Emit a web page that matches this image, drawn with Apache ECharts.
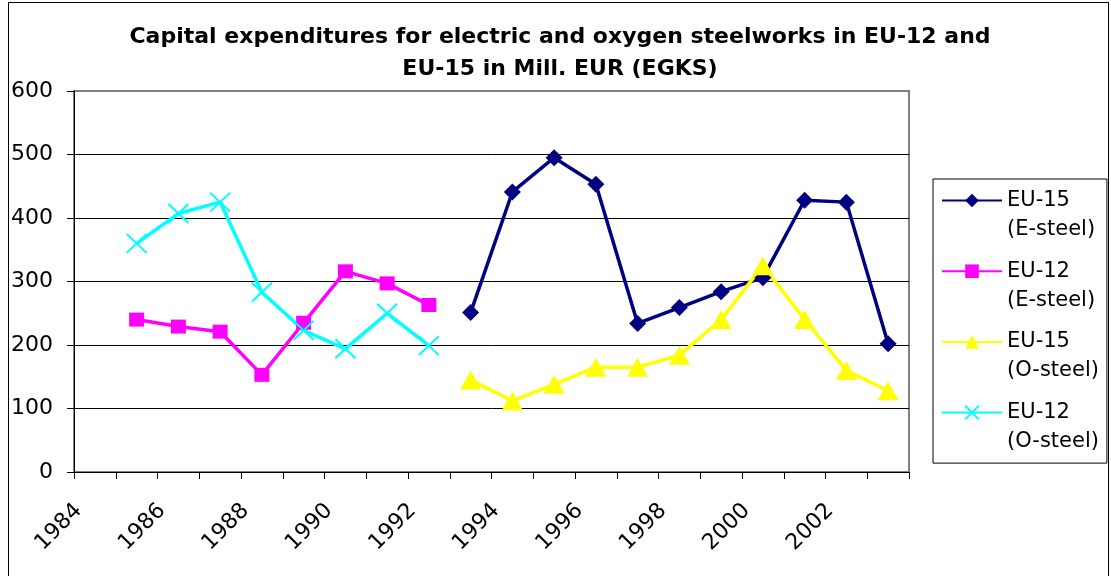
<!DOCTYPE html>
<html>
<head>
<meta charset="utf-8">
<script src="https://cdn.jsdelivr.net/npm/echarts@6/dist/echarts.min.js"></script>
<style>
  html, body { margin: 0; padding: 0; background: #fff; }
  #wrap { position: relative; width: 1111px; height: 576px; }
  #chart { width: 1111px; height: 576px; }
  #frame { position: absolute; left: 8px; top: 2px; width: 1099px; height: 600px;
           border: 1.5px solid #000; pointer-events: none; }
</style>
</head>
<body>
<div id="wrap">
  <div id="chart"></div>
  <div id="frame"></div>
</div>
<script>
// categories on the x axis, one per year
const years = ['1984', '1985', '1986', '1987', '1988', '1989', '1990', '1991', '1992', '1993',
               '1994', '1995', '1996', '1997', '1998', '1999', '2000', '2001', '2002', '2003'];

// values, Mill. EUR
const eu15Electric = [null, null, null, null, null, null, null, null, null,
                      251, 441, 495, 453, 234, 259, 284, 306, 428, 425, 202];
const eu12Electric = [null, 240, 229, 221, 153, 235, 316, 297, 263,
                      null, null, null, null, null, null, null, null, null, null, null];
const eu15Oxygen = [null, null, null, null, null, null, null, null, null,
                    145, 112, 138, 165, 165, 184, 240, 325, 240, 160, 128];
const eu12Oxygen = [null, 360, 407, 425, 283, 223, 194, 250, 199,
                    null, null, null, null, null, null, null, null, null, null, null];

const seriesNames = ['EU-15\n(E-steel)', 'EU-12\n(E-steel)', 'EU-15\n(O-steel)', 'EU-12\n(O-steel)'];

const font = 'DejaVu Sans';
const crossPath = 'path://M0,0L20,20M20,0L0,20';

const lineSeries = (name, data, color, symbol, size, extraItem) => ({
    name,
    type: 'line',
    data,
    symbol,
    symbolSize: size,
    connectNulls: false,
    lineStyle: { color, width: 3.5 },
    itemStyle: Object.assign({ color, borderWidth: 0 }, extraItem || {}),
    emphasis: { disabled: true }
});

const myChart = echarts.init(document.querySelector('#chart'), null, { renderer: 'canvas' });

myChart.setOption({
    animation: false,
    title: {
        text: 'Capital expenditures for electric and oxygen steelworks in EU-12 and\nEU-15 in Mill. EUR (EGKS)',
        left: 560,
        textAlign: 'center',
        top: 21,
        padding: 0,
        textStyle: {
            fontFamily: font,
            fontWeight: 'bold',
            fontSize: 22,
            lineHeight: 32,
            color: '#000'
        }
    },
    grid: {
        left: 74,
        right: 202,
        top: 91,
        bottom: 104,
        show: true,
        borderColor: '#808080',
        borderWidth: 2,
        containLabel: false,
        outerBoundsMode: 'none'
    },
    legend: {
        orient: 'vertical',
        left: 933,
        top: 179,
        // each label gets an empty first line so the icon sits beside the first text line
        padding: [-22, 8, 7, 8],
        itemWidth: 60,
        itemHeight: 17,
        itemGap: -16.3,
        backgroundColor: '#fff',
        borderColor: '#000',
        borderWidth: 1,
        selectedMode: false,
        formatter: name => '\n' + name,
        textStyle: {
            fontFamily: font,
            fontSize: 21,
            lineHeight: 29,
            color: '#000'
        },
        data: seriesNames
    },
    xAxis: {
        type: 'category',
        data: years,
        boundaryGap: true,
        axisLine: { lineStyle: { color: '#000', width: 1 } },
        axisTick: { show: true, interval: 0, length: 7, lineStyle: { color: '#000' } },
        axisLabel: {
            interval: 1,
            rotate: 45,
            margin: 19,
            padding: [0, 23, 0, 0],
            fontFamily: font,
            fontSize: 22,
            color: '#000'
        },
        splitLine: { show: false }
    },
    yAxis: {
        type: 'value',
        min: 0,
        max: 600,
        interval: 100,
        axisLine: { show: true, lineStyle: { color: '#000', width: 1 } },
        axisTick: { show: true, length: 7, lineStyle: { color: '#000' } },
        axisLabel: {
            margin: 21,
            fontFamily: font,
            fontSize: 22,
            color: '#000'
        },
        splitLine: {
            show: true,
            lineStyle: { color: ['#000', '#000', '#000', '#000', '#000', '#000', '#808080'], width: 1 }
        }
    },
    series: [
        lineSeries(seriesNames[0], eu15Electric, '#000080', 'diamond', [17, 17]),
        lineSeries(seriesNames[1], eu12Electric, '#FF00FF', 'rect', [15, 14]),
        lineSeries(seriesNames[2], eu15Oxygen, '#FFFF00', 'triangle', [21, 19]),
        lineSeries(seriesNames[3], eu12Oxygen, '#00FFFF', crossPath, [20, 19],
                   { borderColor: '#00FFFF', borderWidth: 2 })
    ]
});
</script>
</body>
</html>
